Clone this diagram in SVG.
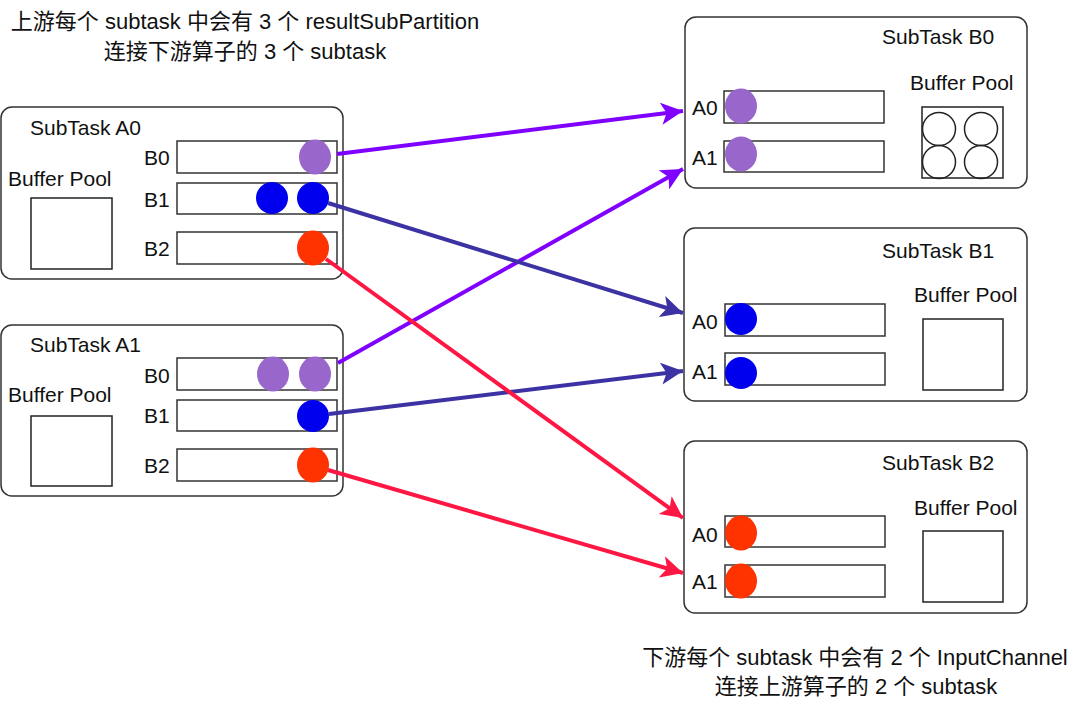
<svg xmlns="http://www.w3.org/2000/svg" width="1080" height="708" viewBox="0 0 1080 708">
<defs>
<style>
text{font-family:"Liberation Sans","Noto Sans CJK SC",Arial,sans-serif;font-size:21px;fill:#111}
.ttl{font-size:22px}
.frame{fill:#fff;stroke:#333;stroke-width:1.5}
.slot{fill:#fff;stroke:#333;stroke-width:1.5}
.pool{fill:#fff;stroke:#222;stroke-width:1.5}
.pc{fill:none;stroke:#222;stroke-width:1.5}
.pu{fill:#9966CC}
.bl{fill:#0000EE}
.rd{fill:#FF3300}
.c{fill:none;stroke-width:4}
.c1{stroke:#7F00FF}
.c2{stroke:#3D32A3}
.c3{stroke:#FF1744}
</style>
<marker id="mPu" viewBox="0 0 10 10" refX="10" refY="5" markerWidth="5.5" markerHeight="5.5" orient="auto" markerUnits="strokeWidth"><path d="M0,0 L10,5 L0,10 L2.5,5 Z" fill="#7F00FF"/></marker>
<marker id="mBl" viewBox="0 0 10 10" refX="10" refY="5" markerWidth="5.5" markerHeight="5.5" orient="auto" markerUnits="strokeWidth"><path d="M0,0 L10,5 L0,10 L2.5,5 Z" fill="#3D32A3"/></marker>
<marker id="mRd" viewBox="0 0 10 10" refX="10" refY="5" markerWidth="5.5" markerHeight="5.5" orient="auto" markerUnits="strokeWidth"><path d="M0,0 L10,5 L0,10 L2.5,5 Z" fill="#FF1744"/></marker>
</defs>
<rect width="1080" height="708" fill="#fff"/>

<g id="title-top">
<text class="ttl" x="245" y="29" text-anchor="middle">上游每个 subtask 中会有 3 个 resultSubPartition</text>
<text class="ttl" x="245" y="59" text-anchor="middle">连接下游算子的 3 个 subtask</text>
</g>
<g id="title-bottom">
<text class="ttl" x="855" y="665" text-anchor="middle">下游每个 subtask 中会有 2 个 InputChannel</text>
<text class="ttl" x="856" y="694" text-anchor="middle">连接上游算子的 2 个 subtask</text>
</g>

<g id="subtask-a0">
<rect class="frame" x="1" y="107" width="342" height="172" rx="11"/>
<text x="30" y="135">SubTask A0</text>
<text x="8" y="186">Buffer Pool</text>
<rect class="pool" x="31" y="198" width="81" height="71"/>
<text x="144" y="165">B0</text>
<text x="144" y="207">B1</text>
<text x="144" y="256">B2</text>
<rect class="slot" x="177" y="141" width="160" height="32"/>
<rect class="slot" x="177" y="183" width="160" height="31"/>
<rect class="slot" x="177" y="232" width="160" height="32"/>
<ellipse class="pu" cx="315" cy="157" rx="16" ry="17.5"/>
<ellipse class="bl" cx="272" cy="198" rx="16" ry="16"/>
<ellipse class="bl" cx="313" cy="198" rx="16" ry="16"/>
<ellipse class="rd" cx="313" cy="248" rx="16" ry="17.5"/>
</g>

<g id="subtask-a1">
<rect class="frame" x="1" y="325" width="342" height="171" rx="11"/>
<text x="30" y="352">SubTask A1</text>
<text x="8" y="402">Buffer Pool</text>
<rect class="pool" x="31" y="416" width="81" height="70"/>
<text x="144" y="383">B0</text>
<text x="144" y="423">B1</text>
<text x="144" y="473">B2</text>
<rect class="slot" x="177" y="358" width="160" height="32"/>
<rect class="slot" x="177" y="400" width="160" height="31"/>
<rect class="slot" x="177" y="449" width="160" height="32"/>
<ellipse class="pu" cx="273" cy="374" rx="16" ry="17.5"/>
<ellipse class="pu" cx="315" cy="374" rx="16" ry="17.5"/>
<ellipse class="bl" cx="313" cy="416" rx="16" ry="16"/>
<ellipse class="rd" cx="313" cy="465" rx="16" ry="17.5"/>
</g>

<g id="subtask-b0">
<rect class="frame" x="685" y="17" width="342" height="171" rx="11"/>
<text x="882" y="44">SubTask B0</text>
<text x="910" y="90">Buffer Pool</text>
<rect class="pool" x="922" y="107" width="81" height="71"/>
<circle class="pc" cx="939" cy="129" r="16.5"/>
<circle class="pc" cx="981" cy="129" r="16.5"/>
<circle class="pc" cx="939" cy="162" r="16.5"/>
<circle class="pc" cx="981" cy="162" r="16.5"/>
<text x="692" y="115">A0</text>
<text x="692" y="165">A1</text>
<rect class="slot" x="724" y="91" width="160" height="32"/>
<rect class="slot" x="724" y="141" width="160" height="31"/>
<ellipse class="pu" cx="741" cy="106" rx="16" ry="17.5"/>
<ellipse class="pu" cx="741" cy="154" rx="16" ry="17.5"/>
</g>

<g id="subtask-b1">
<rect class="frame" x="684" y="228" width="343" height="173" rx="11"/>
<text x="882" y="258">SubTask B1</text>
<text x="914" y="302">Buffer Pool</text>
<rect class="pool" x="923" y="319" width="80" height="71"/>
<text x="692" y="329">A0</text>
<text x="692" y="379">A1</text>
<rect class="slot" x="725" y="304" width="160" height="32"/>
<rect class="slot" x="725" y="353" width="160" height="32"/>
<ellipse class="bl" cx="741" cy="319" rx="16" ry="16"/>
<ellipse class="bl" cx="741" cy="373" rx="16" ry="16"/>
</g>

<g id="subtask-b2">
<rect class="frame" x="684" y="441" width="343" height="172" rx="11"/>
<text x="882" y="470">SubTask B2</text>
<text x="914" y="515">Buffer Pool</text>
<rect class="pool" x="923" y="531" width="80" height="71"/>
<text x="692" y="542">A0</text>
<text x="692" y="589">A1</text>
<rect class="slot" x="725" y="516" width="160" height="31"/>
<rect class="slot" x="725" y="565" width="160" height="32"/>
<ellipse class="rd" cx="741" cy="533" rx="16" ry="17.5"/>
<ellipse class="rd" cx="741" cy="581" rx="16" ry="17.5"/>
</g>

<g id="connectors">
<line class="c c1" x1="337" y1="154" x2="683" y2="111" marker-end="url(#mPu)"/>
<line class="c c1" x1="338" y1="363" x2="683" y2="169" marker-end="url(#mPu)"/>
<line class="c c2" x1="328" y1="203" x2="683" y2="313" marker-end="url(#mBl)"/>
<line class="c c2" x1="329" y1="414" x2="683" y2="371" marker-end="url(#mBl)"/>
<line class="c c3" x1="326" y1="259" x2="683" y2="518" marker-end="url(#mRd)"/>
<line class="c c3" x1="328" y1="470" x2="683" y2="573" marker-end="url(#mRd)"/>
</g>
</svg>
